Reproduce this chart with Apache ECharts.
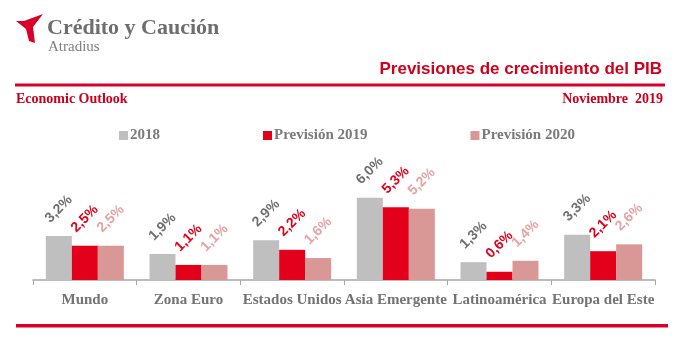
<!DOCTYPE html>
<html><head><meta charset="utf-8">
<style>html,body{margin:0;padding:0;background:#fff}#c{width:680px;height:348px}</style>
<script src="https://cdn.jsdelivr.net/npm/echarts@6/dist/echarts.min.js"></script>
</head><body><div id="c"></div>
<script>
const categories = ['Mundo','Zona Euro','Estados Unidos','Asia Emergente','Latinoamérica','Europa del Este'];
const seriesNames = ['2018','Previsión 2019','Previsión 2020'];
const v2018 = [3.2,1.9,2.9,6.0,1.3,3.3];
const v2019 = [2.5,1.1,2.2,5.3,0.6,2.1];
const v2020 = [2.5,1.1,1.6,5.2,1.4,2.6];

const barColors = ['#bfbfbf','#e2001a','#d99795'];
const labelColors = ['#6f6f6f','#e2001a','#e6a3a3'];
const serif = '"Liberation Serif", "DejaVu Serif", serif';
const sans = '"Liberation Sans", "DejaVu Sans", sans-serif';

const chart = echarts.init(document.getElementById('c'));
function mk(name, data, i){
  return {
    name, type:'bar', data, barWidth:26, barGap:'0%',
    itemStyle:{color:barColors[i]},
    label:{show:true, position:'top', distance:27, rotate:45, align:'center', verticalAlign:'middle',
      color:labelColors[i], fontFamily:sans, fontWeight:'bold', fontSize:14,
      formatter:p=>p.value.toFixed(1).replace('.',',')+'%'}
  };
}
chart.setOption({
  animation:false,
  grid:{left:33, right:25, top:184, height:96},
  legend:{left:114, top:123, itemWidth:9, itemHeight:9, itemGap:103, icon:'rect',
    textStyle:{color:'#7a7a7a', fontFamily:serif, fontWeight:'bold', fontSize:15, padding:[0,0,0,-3]},
    data:seriesNames},
  xAxis:{type:'category', data:categories,
    axisLine:{lineStyle:{color:'#a6a6a6', width:1.5}},
    axisTick:{show:true, length:5, lineStyle:{color:'#a6a6a6'}},
    axisLabel:{color:'#737373', fontFamily:serif, fontWeight:'bold', fontSize:15, margin:13, interval:0}},
  yAxis:{type:'value', min:0, max:7, show:false, splitLine:{show:false}},
  series:[mk(seriesNames[0],v2018,0), mk(seriesNames[1],v2019,1), mk(seriesNames[2],v2020,2)],
  graphic:[
    {type:'polygon', shape:{points:[[16,21],[24,21],[43,14],[33,27],[35,43],[29,41],[26,29]]}, style:{fill:'#d7002a'}},
    {type:'text', left:47, top:17, style:{text:'Crédito y Caución', fill:'#6e6e6e', font:'bold 22px '+serif}},
    {type:'text', left:48, top:40, style:{text:'Atradius', fill:'#7f7f7f', font:'15px '+serif}},
    {type:'rect', shape:{x:15, y:83.5, width:650, height:3}, style:{fill:'#d7002a'}},
    {type:'text', right:18, top:61, style:{text:'Previsiones de crecimiento del PIB', fill:'#d0021b', font:'bold 17px '+sans}},
    {type:'text', left:16, top:92, style:{text:'Economic Outlook', fill:'#c8001e', font:'bold 14px '+serif}},
    {type:'text', right:17, top:92, style:{text:'Noviembre  2019', fill:'#c8001e', font:'bold 14px '+serif}},
    {type:'rect', shape:{x:16, y:324, width:652, height:3.5}, style:{fill:'#d7002a'}}
  ]
});
</script></body></html>
